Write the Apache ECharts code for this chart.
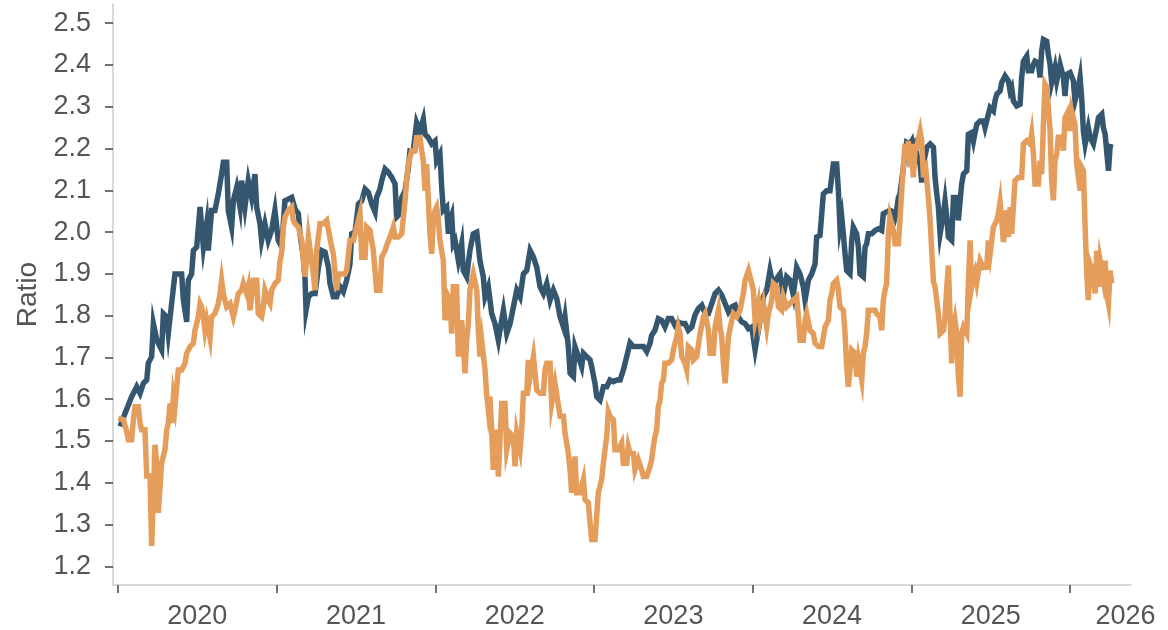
<!DOCTYPE html>
<html><head><meta charset="utf-8">
<script src="https://cdn.jsdelivr.net/npm/echarts@6/dist/echarts.min.js"></script>
<style>html,body{margin:0;padding:0;background:#fff}#c{width:1168px;height:630px}</style>
</head><body><div id="c"></div><script>
// [decimal year, ratio]
const blueSeries = [
[2020.013,1.535],[2020.044,1.566],[2020.086,1.606],[2020.118,1.630],[2020.139,1.614],[2020.160,1.638],[2020.181,1.646],[2020.191,1.686],[2020.212,1.702],[2020.223,1.781],[2020.244,1.742],[2020.275,1.718],[2020.286,1.805],[2020.307,1.797],[2020.317,1.758],[2020.338,1.829],[2020.359,1.900],[2020.401,1.900],[2020.412,1.837],[2020.433,1.785],[2020.443,1.885],[2020.464,1.900],[2020.475,1.956],[2020.496,1.964],[2020.517,2.060],[2020.538,1.964],[2020.559,2.020],[2020.569,1.956],[2020.590,2.052],[2020.611,2.052],[2020.632,2.091],[2020.653,2.139],[2020.664,2.167],[2020.685,2.167],[2020.695,2.052],[2020.716,2.012],[2020.727,2.075],[2020.748,2.107],[2020.769,2.060],[2020.779,2.123],[2020.800,2.060],[2020.821,2.123],[2020.842,2.083],[2020.863,2.139],[2020.874,2.060],[2020.895,2.020],[2020.905,1.980],[2020.926,2.020],[2020.947,1.980],[2020.968,2.004],[2020.989,2.052],[2021.010,1.980],[2021.031,1.964],
[2021.052,2.075],[2021.063,2.079],[2021.095,2.083],[2021.116,2.055],[2021.137,2.044],[2021.147,1.996],[2021.168,1.940],[2021.179,1.885],[2021.185,1.813],[2021.200,1.845],[2021.221,1.853],[2021.242,1.853],[2021.263,1.916],[2021.284,1.956],[2021.305,1.952],[2021.326,1.916],[2021.336,1.877],[2021.357,1.845],[2021.378,1.845],[2021.399,1.869],[2021.420,1.857],[2021.441,1.885],[2021.462,1.924],[2021.473,1.996],[2021.494,2.000],[2021.515,2.067],[2021.536,2.075],[2021.557,2.103],[2021.578,2.095],[2021.599,2.067],[2021.620,2.048],[2021.630,2.083],[2021.651,2.103],[2021.662,2.123],[2021.683,2.151],[2021.704,2.143],[2021.725,2.131],[2021.746,2.115],[2021.756,2.036],[2021.777,2.044],[2021.788,2.083],[2021.809,2.099],[2021.830,2.155],[2021.840,2.195],[2021.861,2.195],[2021.882,2.262],[2021.903,2.242],[2021.924,2.270],[2021.935,2.234],[2021.956,2.226],[2021.977,2.211],[2021.998,2.218],[2022.008,2.171],[2022.029,2.187],[2022.040,2.107],[2022.050,2.052],[2022.071,2.060],[2022.082,1.996],[2022.092,2.028],[2022.103,2.040],[2022.113,1.972],
[2022.124,1.980],[2022.145,1.932],[2022.166,1.972],[2022.176,1.908],[2022.197,1.893],[2022.218,1.956],[2022.239,1.996],[2022.261,2.000],[2022.281,1.932],[2022.302,1.893],[2022.313,1.845],[2022.334,1.869],[2022.355,1.805],[2022.376,1.781],[2022.397,1.741],[2022.407,1.765],[2022.429,1.813],[2022.450,1.757],[2022.471,1.781],[2022.492,1.821],[2022.513,1.861],[2022.534,1.845],[2022.555,1.900],[2022.576,1.908],[2022.597,1.956],[2022.618,1.940],[2022.639,1.916],[2022.660,1.869],[2022.681,1.853],[2022.702,1.877],[2022.723,1.837],[2022.744,1.861],[2022.765,1.841],[2022.786,1.797],[2022.807,1.773],[2022.817,1.797],[2022.838,1.726],[2022.849,1.662],[2022.870,1.654],[2022.880,1.726],[2022.901,1.702],[2022.922,1.678],[2022.933,1.710],[2022.954,1.702],[2022.975,1.694],[2022.985,1.678],[2023.006,1.638],[2023.017,1.606],[2023.038,1.598],[2023.059,1.630],[2023.080,1.630],[2023.101,1.646],[2023.122,1.642],[2023.143,1.646],[2023.164,1.646],[2023.185,1.670],[2023.206,1.702],
[2023.227,1.735],[2023.248,1.726],[2023.279,1.726],[2023.311,1.726],[2023.332,1.714],[2023.353,1.734],[2023.363,1.753],[2023.384,1.765],[2023.405,1.793],[2023.426,1.789],[2023.447,1.773],[2023.468,1.793],[2023.489,1.793],[2023.510,1.777],[2023.531,1.785],[2023.552,1.781],[2023.573,1.781],[2023.594,1.765],[2023.616,1.773],[2023.636,1.801],[2023.657,1.817],[2023.679,1.825],[2023.700,1.805],[2023.721,1.805],[2023.742,1.829],[2023.763,1.853],[2023.784,1.861],[2023.805,1.849],[2023.826,1.829],[2023.847,1.809],[2023.868,1.821],[2023.889,1.825],[2023.910,1.797],[2023.931,1.785],[2023.952,1.781],[2023.973,1.769],[2023.994,1.773],[2024.015,1.718],[2024.025,1.722],[2024.046,1.789],[2024.067,1.845],[2024.088,1.861],[2024.109,1.908],[2024.130,1.869],[2024.151,1.889],[2024.172,1.900],[2024.193,1.849],[2024.214,1.893],[2024.235,1.885],[2024.256,1.849],[2024.277,1.916],[2024.298,1.900],[2024.319,1.869],
[2024.330,1.837],[2024.351,1.885],[2024.372,1.900],[2024.393,1.924],[2024.403,1.988],[2024.424,1.992],[2024.435,2.044],[2024.445,2.091],[2024.466,2.099],[2024.487,2.099],[2024.498,2.131],[2024.508,2.163],[2024.529,2.163],[2024.540,2.099],[2024.550,2.012],[2024.561,2.036],[2024.571,1.996],[2024.582,1.948],[2024.592,1.908],[2024.613,1.900],[2024.624,1.980],[2024.634,2.012],[2024.645,2.012],[2024.655,1.996],[2024.666,1.964],[2024.676,1.900],[2024.697,1.893],[2024.708,1.964],[2024.718,1.972],[2024.729,1.996],[2024.750,1.996],[2024.771,2.004],[2024.792,2.008],[2024.813,2.004],[2024.823,2.044],[2024.844,2.048],[2024.865,2.052],[2024.886,2.048],[2024.897,2.036],[2024.907,2.052],[2024.918,2.083],[2024.928,2.091],[2024.939,2.123],[2024.950,2.123],[2024.960,2.187],[2024.970,2.215],[2024.991,2.211],[2025.002,2.218],[2025.012,2.187],[2025.023,2.203],[2025.044,2.171],[2025.055,2.163],[2025.065,2.119],[2025.076,2.163],[2025.097,2.203],[2025.118,2.211],[2025.139,2.203],[2025.149,2.131],[2025.160,2.091],[2025.170,2.060],[2025.181,1.996],[2025.191,1.996],[2025.202,2.044],[2025.212,2.075],[2025.223,2.036],[2025.233,1.988],[2025.254,1.980],[2025.265,2.083],[2025.286,2.083],[2025.296,2.028],[2025.307,2.075],[2025.317,2.115],[2025.328,2.139],[2025.349,2.147],[2025.359,2.234],[2025.380,2.238],[2025.391,2.218],[2025.401,2.238],
[2025.412,2.258],[2025.433,2.266],[2025.454,2.266],[2025.464,2.250],[2025.485,2.282],[2025.496,2.298],[2025.517,2.290],[2025.527,2.314],[2025.538,2.330],[2025.559,2.338],[2025.569,2.358],[2025.590,2.374],[2025.611,2.362],[2025.622,2.338],[2025.632,2.346],[2025.643,2.314],[2025.664,2.302],[2025.685,2.306],[2025.695,2.370],[2025.706,2.409],[2025.727,2.421],[2025.737,2.386],[2025.758,2.386],[2025.769,2.401],[2025.779,2.409],[2025.800,2.405],[2025.811,2.370],[2025.821,2.433],[2025.832,2.461],[2025.853,2.457],[2025.863,2.425],[2025.874,2.401],[2025.884,2.358],[2025.905,2.393],[2025.916,2.362],[2025.937,2.401],[2025.947,2.405],[2025.958,2.370],[2025.968,2.326],[2025.979,2.378],[2026.000,2.382],[2026.021,2.362],[2026.031,2.314],[2026.052,2.346],[2026.063,2.370],[2026.073,2.322],[2026.084,2.242],[2026.095,2.211],[2026.115,2.250],[2026.126,2.227],[2026.147,2.211],[2026.168,2.250],[2026.179,2.274],[2026.200,2.282],[2026.210,2.250],[2026.221,2.234],[2026.242,2.147],[2026.252,2.203],[2026.258,2.211]
];
const orangeSeries = [
[2020.002,1.555],[2020.034,1.551],[2020.055,1.523],[2020.065,1.503],[2020.086,1.503],[2020.097,1.551],[2020.107,1.582],[2020.128,1.582],[2020.139,1.543],[2020.149,1.527],[2020.170,1.527],[2020.181,1.416],[2020.202,1.416],[2020.212,1.249],[2020.223,1.368],[2020.233,1.491],[2020.244,1.447],[2020.254,1.328],[2020.265,1.328],[2020.275,1.447],[2020.296,1.479],[2020.307,1.527],[2020.317,1.543],[2020.328,1.590],[2020.338,1.543],[2020.349,1.606],[2020.359,1.582],[2020.380,1.670],[2020.401,1.670],[2020.422,1.686],[2020.433,1.710],[2020.454,1.726],[2020.475,1.734],[2020.485,1.765],[2020.506,1.797],[2020.517,1.829],[2020.527,1.821],[2020.538,1.797],[2020.548,1.765],[2020.559,1.789],[2020.580,1.746],[2020.590,1.797],[2020.611,1.805],[2020.632,1.829],[2020.643,1.853],[2020.653,1.885],[2020.664,1.853],[2020.674,1.837],[2020.685,1.821],[2020.706,1.829],[2020.727,1.797],[2020.737,1.813],[2020.758,1.853],[2020.779,1.861],[2020.790,1.877],[2020.811,1.853],[2020.821,1.869],[2020.832,1.813],[2020.842,1.845],[2020.853,1.885],[2020.874,1.885],[2020.884,1.805],[2020.905,1.797],[2020.916,1.821],[2020.926,1.861],[2020.947,1.837],[2020.958,1.829],[2020.968,1.861],[2020.979,1.869],[2020.989,1.877],[2021.010,1.885],[2021.021,1.930],[2021.031,1.952],[2021.042,2.010],[2021.052,2.036],
[2021.073,2.052],[2021.095,2.060],[2021.105,2.028],[2021.116,2.020],[2021.137,2.012],[2021.158,1.980],[2021.168,1.932],[2021.179,1.893],[2021.200,1.988],[2021.210,1.988],[2021.231,1.900],[2021.242,1.861],[2021.252,1.956],[2021.273,2.020],[2021.294,2.020],[2021.315,2.028],[2021.326,2.028],[2021.347,1.964],[2021.357,1.948],[2021.378,1.861],[2021.389,1.900],[2021.410,1.900],[2021.431,1.900],[2021.441,1.908],[2021.462,1.980],[2021.483,1.980],[2021.504,2.012],[2021.525,2.044],[2021.536,1.940],[2021.557,1.940],[2021.567,2.012],[2021.588,2.004],[2021.609,1.956],[2021.630,1.861],[2021.651,1.861],[2021.662,1.940],[2021.683,1.956],[2021.693,1.968],[2021.714,1.988],[2021.735,2.012],[2021.746,1.988],[2021.767,1.988],[2021.788,1.996],[2021.809,2.075],[2021.819,2.123],[2021.830,2.163],[2021.851,2.195],[2021.872,2.195],[2021.882,2.226],[2021.903,2.226],[2021.914,2.195],[2021.924,2.171],[2021.935,2.099],[2021.945,2.163],[2021.956,2.075],[2021.966,1.996],[2021.977,1.948],[2021.987,2.028],[2021.998,2.052],[2022.008,2.060],[2022.019,2.028],[2022.029,1.980],[2022.050,1.932],[2022.061,1.789],[2022.082,1.845],[2022.092,1.837],[2022.103,1.757],[2022.113,1.869],
[2022.134,1.869],[2022.145,1.702],[2022.166,1.789],[2022.187,1.662],[2022.197,1.741],[2022.208,1.781],[2022.218,1.861],[2022.239,1.900],[2022.261,1.861],[2022.271,1.765],[2022.281,1.702],[2022.292,1.741],[2022.313,1.670],[2022.323,1.614],[2022.334,1.574],[2022.344,1.606],[2022.355,1.527],[2022.365,1.431],[2022.387,1.527],[2022.397,1.415],[2022.418,1.590],[2022.439,1.590],[2022.450,1.479],[2022.471,1.519],[2022.492,1.511],[2022.502,1.439],[2022.513,1.519],[2022.534,1.479],[2022.544,1.527],[2022.555,1.614],[2022.576,1.614],[2022.586,1.694],[2022.597,1.654],[2022.618,1.702],[2022.628,1.702],[2022.639,1.622],[2022.660,1.614],[2022.681,1.614],[2022.691,1.670],[2022.702,1.686],[2022.723,1.686],[2022.733,1.590],[2022.754,1.638],[2022.765,1.638],[2022.786,1.559],[2022.807,1.559],[2022.817,1.519],[2022.838,1.471],[2022.849,1.431],[2022.859,1.376],[2022.880,1.463],[2022.891,1.376],[2022.912,1.376],[2022.933,1.408],[2022.943,1.360],[2022.964,1.352],[2022.975,1.304],[2022.985,1.264],[2023.006,1.264],[2023.027,1.376],[2023.048,1.408],[2023.059,1.447],[2023.069,1.479],[2023.080,1.511],[2023.090,1.570],[2023.101,1.559],[2023.122,1.551],[2023.132,1.479],[2023.153,1.479],[2023.174,1.495],[2023.185,1.447],[2023.206,1.447],[2023.216,1.487],
[2023.227,1.471],[2023.248,1.470],[2023.258,1.431],[2023.279,1.455],[2023.300,1.431],[2023.311,1.415],[2023.332,1.415],[2023.353,1.439],[2023.363,1.455],[2023.374,1.487],[2023.384,1.511],[2023.395,1.527],[2023.405,1.582],[2023.416,1.598],[2023.426,1.638],[2023.437,1.646],[2023.447,1.686],[2023.468,1.686],[2023.489,1.694],[2023.500,1.718],[2023.521,1.749],[2023.531,1.773],[2023.542,1.757],[2023.552,1.702],[2023.573,1.686],[2023.584,1.670],[2023.594,1.726],[2023.616,1.718],[2023.626,1.694],[2023.647,1.702],[2023.668,1.757],[2023.689,1.797],[2023.700,1.805],[2023.721,1.765],[2023.731,1.710],[2023.752,1.710],[2023.763,1.773],[2023.784,1.813],[2023.794,1.773],[2023.805,1.749],[2023.815,1.686],[2023.826,1.638],[2023.836,1.638],[2023.847,1.749],[2023.868,1.789],[2023.878,1.805],[2023.899,1.797],[2023.920,1.813],[2023.941,1.853],[2023.952,1.885],[2023.973,1.908],[2023.983,1.908],[2023.994,1.877],[2024.004,1.861],[2024.015,1.789],[2024.036,1.829],[2024.046,1.789],[2024.067,1.829],[2024.088,1.773],[2024.099,1.805],[2024.120,1.837],[2024.130,1.877],[2024.151,1.869],[2024.162,1.821],[2024.183,1.813],[2024.193,1.845],[2024.214,1.821],[2024.235,1.829],[2024.256,1.837],[2024.277,1.845],[2024.288,1.797],[2024.298,1.741],[2024.319,1.741],
[2024.330,1.790],[2024.340,1.805],[2024.351,1.805],[2024.361,1.765],[2024.382,1.757],[2024.393,1.734],[2024.414,1.726],[2024.435,1.726],[2024.445,1.749],[2024.456,1.773],[2024.477,1.789],[2024.487,1.837],[2024.498,1.853],[2024.508,1.877],[2024.529,1.885],[2024.540,1.861],[2024.550,1.821],[2024.571,1.813],[2024.582,1.757],[2024.592,1.678],[2024.603,1.630],[2024.624,1.718],[2024.645,1.710],[2024.655,1.654],[2024.666,1.694],[2024.676,1.670],[2024.687,1.646],[2024.697,1.710],[2024.708,1.726],[2024.718,1.757],[2024.729,1.813],[2024.750,1.813],[2024.771,1.813],[2024.781,1.805],[2024.802,1.797],[2024.813,1.765],[2024.823,1.837],[2024.834,1.861],[2024.844,1.877],[2024.855,1.996],[2024.865,2.036],[2024.876,2.036],[2024.886,2.004],[2024.897,1.972],[2024.918,1.972],[2024.928,2.028],[2024.939,2.099],[2024.950,2.163],[2024.960,2.211],[2024.970,2.171],[2024.981,2.218],[2024.991,2.155],[2025.002,2.211],[2025.012,2.131],[2025.023,2.195],[2025.033,2.203],[2025.055,2.242],[2025.065,2.218],[2025.076,2.131],[2025.086,2.171],[2025.107,2.083],[2025.118,2.028],[2025.128,1.956],[2025.139,1.881],[2025.149,1.869],[2025.170,1.805],[2025.181,1.757],[2025.202,1.765],[2025.212,1.797],[2025.223,1.869],[2025.233,1.920],[2025.244,1.797],[2025.254,1.686],[2025.265,1.765],[2025.275,1.789],[2025.286,1.757],[2025.296,1.654],[2025.307,1.606],[2025.317,1.757],[2025.328,1.773],[2025.349,1.757],[2025.359,1.877],[2025.370,1.980],[2025.380,1.869],[2025.391,1.893],
[2025.401,1.905],[2025.412,1.880],[2025.433,1.932],[2025.454,1.915],[2025.475,1.916],[2025.485,1.980],[2025.496,1.948],[2025.517,2.012],[2025.538,2.028],[2025.548,2.044],[2025.559,2.072],[2025.569,2.028],[2025.580,1.976],[2025.590,2.012],[2025.601,2.052],[2025.611,1.988],[2025.622,2.060],[2025.632,1.996],[2025.643,1.996],[2025.653,2.123],[2025.674,2.131],[2025.695,2.131],[2025.706,2.211],[2025.727,2.219],[2025.748,2.211],[2025.758,2.235],[2025.769,2.187],[2025.779,2.115],[2025.800,2.115],[2025.811,2.171],[2025.821,2.139],[2025.832,2.258],[2025.842,2.354],[2025.853,2.346],[2025.863,2.298],[2025.874,2.242],[2025.884,2.123],[2025.895,2.076],[2025.905,2.171],[2025.916,2.187],[2025.926,2.227],[2025.947,2.227],[2025.958,2.195],[2025.968,2.274],[2025.989,2.290],[2026.000,2.242],[2026.010,2.290],[2026.021,2.294],[2026.031,2.258],[2026.042,2.163],[2026.052,2.163],[2026.063,2.099],[2026.073,2.155],[2026.084,2.147],[2026.095,2.012],[2026.105,1.901],[2026.115,1.837],[2026.126,1.924],[2026.147,1.901],[2026.158,1.853],[2026.168,1.956],[2026.179,1.869],[2026.189,1.932],[2026.210,1.885],[2026.221,1.932],[2026.231,1.853],[2026.242,1.829],[2026.252,1.908],[2026.263,1.877]
];
const yearTicks = [2020, 2021, 2022, 2023, 2024, 2025, 2026];
const yearLabels = [2020.5, 2021.5, 2022.5, 2023.5, 2024.5, 2025.5, 2026.35];
const ratioTicks = [1.2, 1.3, 1.4, 1.5, 1.6, 1.7, 1.8, 1.9, 2.0, 2.1, 2.2, 2.3, 2.4, 2.5];

const FONT = "'Liberation Sans', Arial, Helvetica, sans-serif";
const TXT = '#555555';
const chart = echarts.init(document.getElementById('c'), null, {renderer: 'canvas'});
chart.setOption({
  animation: false,
  backgroundColor: '#ffffff',
  grid: {left: 113, right: 37, top: 4, bottom: 44, containLabel: false},
  xAxis: {
    type: 'value', min: 2019.9685, max: 2026.384,
    axisLine: {show: true, onZero: false, lineStyle: {color: '#cccccc', width: 1.5}},
    axisTick: {show: true, customValues: yearTicks, length: 8, lineStyle: {color: '#444444', width: 1.5}},
    axisLabel: {show: true, customValues: yearLabels, margin: 18, color: TXT, fontSize: 27, fontFamily: FONT,
      formatter: v => String(Math.floor(v + 1e-6))},
    splitLine: {show: false}
  },
  yAxis: {
    type: 'value', min: 1.1553, max: 2.546,
    name: 'Ratio', nameLocation: 'middle', nameGap: 66,
    nameTextStyle: {color: TXT, fontSize: 28, fontFamily: FONT},
    axisLine: {show: true, lineStyle: {color: '#cccccc', width: 1.5}},
    axisTick: {show: true, customValues: ratioTicks, length: 8, lineStyle: {color: '#444444', width: 1.5}},
    axisLabel: {show: true, customValues: ratioTicks, margin: 22, color: TXT, fontSize: 27, fontFamily: FONT,
      formatter: v => v.toFixed(1)},
    splitLine: {show: false}
  },
  series: [
    {name: 'Blue', type: 'line', data: blueSeries, showSymbol: false, symbol: 'none',
      lineStyle: {color: '#34576f', width: 5.5, join: 'miter'}, z: 2},
    {name: 'Orange', type: 'line', data: orangeSeries, showSymbol: false, symbol: 'none',
      lineStyle: {color: '#e49d5b', width: 5.5, join: 'miter'}, z: 3}
  ]
});
</script></body></html>
